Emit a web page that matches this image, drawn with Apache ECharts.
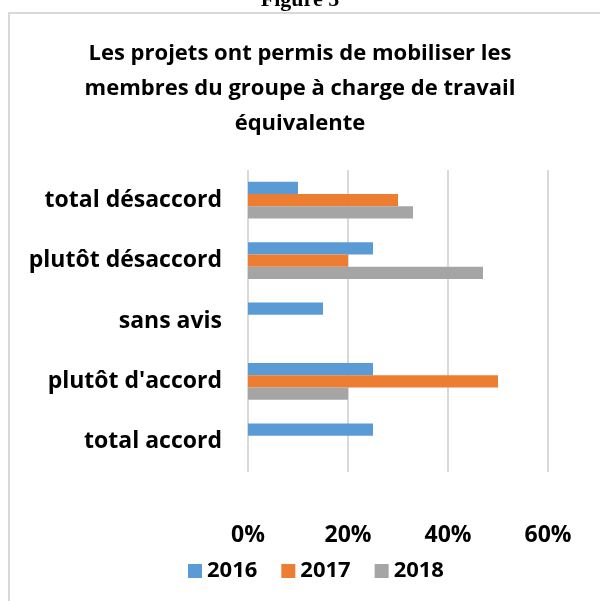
<!DOCTYPE html>
<html>
<head>
<meta charset="utf-8">
<script src="https://cdn.jsdelivr.net/npm/echarts@6/dist/echarts.min.js"></script>
<style>
  html, body { margin: 0; padding: 0; background: #fff; }
  #chart { width: 600px; height: 601px; }
</style>
</head>
<body>
<div id="chart"></div>
<script>
  // categories listed top to bottom
  var categories = ['total désaccord', 'plutôt désaccord', 'sans avis', "plutôt d'accord", 'total accord'];
  var years = ['2016', '2017', '2018'];
  var values2016 = [10, 25, 15, 25, 25];
  var values2017 = [30, 20, 0, 50, 0];
  var values2018 = [33, 47, 0, 20, 0];
  var xTicks = [0, 20, 40, 60];
  var colors = ['#5b9bd5', '#ed7d31', '#a5a5a5'];

  var font = '"Open Sans", Lato, sans-serif';
  var chart = echarts.init(document.getElementById('chart'));

  function bar(name, data) {
    return {
      name: name,
      type: 'bar',
      data: data,
      barGap: '0%',
      barCategoryGap: '39%',
      silent: true
    };
  }

  chart.setOption({
    animation: false,
    color: colors,
    title: {
      text: 'Les projets ont permis de mobiliser les\nmembres du groupe à charge de travail\néquivalente',
      left: 'center',
      top: 31,
      textStyle: {
        fontFamily: font,
        fontWeight: 'bold',
        fontSize: 22,
        lineHeight: 35,
        color: '#000',
        align: 'center'
      }
    },
    graphic: [
      {
        type: 'rect',
        shape: { x: 9, y: 13, width: 700, height: 700 },
        style: { fill: 'none', stroke: '#d9d9d9', lineWidth: 2 },
        silent: true
      },
      {
        type: 'text',
        left: 'center',
        top: -11,
        style: {
          text: 'Figure 5',
          font: 'bold 22px "Liberation Serif", "DejaVu Serif", serif',
          fill: '#000'
        },
        silent: true
      }
    ],
    legend: {
      data: years,
      left: 183,
      top: 555,
      itemWidth: 14,
      itemHeight: 14,
      itemGap: 24,
      icon: 'rect',
      selectedMode: false,
      textStyle: {
        fontFamily: font,
        fontWeight: 'bold',
        fontSize: 22,
        color: '#000'
      }
    },
    grid: {
      left: 248,
      right: 52,
      top: 170,
      bottom: 129,
      containLabel: false
    },
    xAxis: {
      type: 'value',
      min: xTicks[0],
      max: xTicks[xTicks.length - 1],
      interval: 20,
      axisLine: { show: false },
      axisTick: { show: false },
      splitLine: { show: true, lineStyle: { color: '#d9d9d9', width: 2 } },
      axisLabel: {
        margin: 52,
        formatter: '{value}%',
        fontFamily: font,
        fontWeight: 'bold',
        fontSize: 23,
        color: '#000'
      }
    },
    yAxis: {
      type: 'category',
      data: categories,
      inverse: true,
      axisLine: { show: false },
      axisTick: { show: false },
      axisLabel: {
        margin: 26,
        fontFamily: font,
        fontWeight: 'bold',
        fontSize: 23,
        color: '#000'
      }
    },
    series: [
      bar(years[0], values2016),
      bar(years[1], values2017),
      bar(years[2], values2018)
    ]
  });
</script>
</body>
</html>
